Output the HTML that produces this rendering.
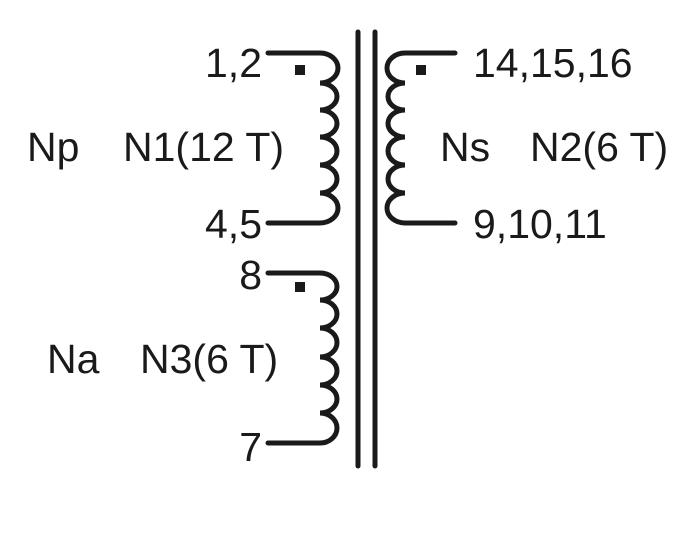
<!DOCTYPE html>
<html><head><style>
body{margin:0;background:#fff;}
svg text{font-family:"Liberation Sans",Arial,sans-serif;font-size:41px;fill:#1a1a1a;}
</style></head><body>
<svg width="695" height="528" viewBox="0 0 695 528" xmlns="http://www.w3.org/2000/svg">
<g fill="none" stroke="#1a1a1a" stroke-width="5" stroke-linecap="round">
<line x1="358" y1="32" x2="358" y2="466"/>
<line x1="375" y1="32" x2="375" y2="466"/>
<path d="M268,53 H320 A18 15 0 0 1 320,83 A17 13.5 0 0 1 320,110 A17 13.5 0 0 1 320,137 A17 14 0 0 1 320,165 A17 14 0 0 1 320,193 A18 15 0 0 1 320,223 H268"/>
<path d="M455,53 H405 A18 15 0 0 0 405,83 A17 13.5 0 0 0 405,110 A17 13.5 0 0 0 405,137 A17 14 0 0 0 405,165 A17 14 0 0 0 405,193 A18 15 0 0 0 405,223 H455"/>
<path d="M268,273 H320 A17 13.5 0 0 1 320,300 A17 14 0 0 1 320,328 A17 14.5 0 0 1 320,357 A17 14 0 0 1 320,385 A17 14 0 0 1 320,413 A17 15 0 0 1 320,443 H268"/>
</g>
<g fill="#1a1a1a">
<rect x="295" y="65" width="10" height="10"/>
<rect x="416" y="65" width="10" height="10"/>
<rect x="295" y="282" width="10" height="10"/>
</g>
<text x="262" y="77" text-anchor="end">1,2</text>
<text x="262" y="238" text-anchor="end">4,5</text>
<text x="262" y="289" text-anchor="end">8</text>
<text x="262" y="461" text-anchor="end">7</text>
<text x="27" y="161">Np</text>
<text x="123" y="161">N1(12 T)</text>
<text x="440" y="161">Ns</text>
<text x="530" y="161">N2(6 T)</text>
<text x="473" y="77">14,15,16</text>
<text x="473" y="238">9,10,11</text>
<text x="47" y="373">Na</text>
<text x="140" y="373">N3(6 T)</text>
</svg>
</body></html>
